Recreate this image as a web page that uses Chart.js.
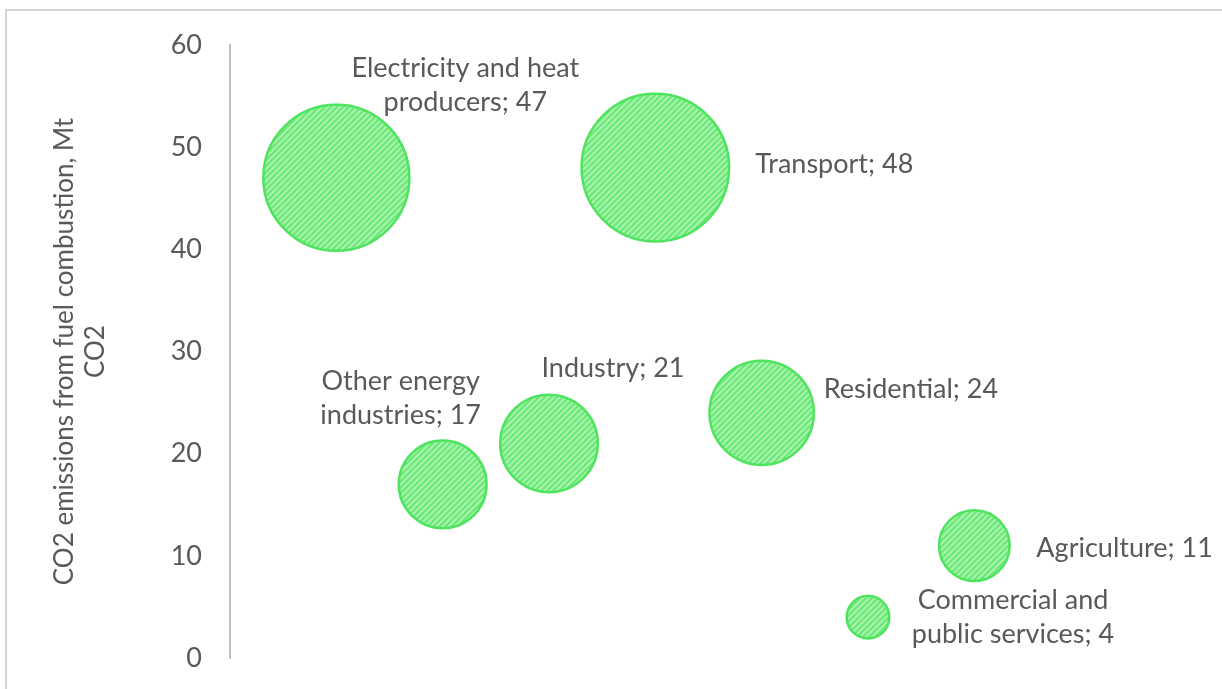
<!DOCTYPE html>
<html>
<head>
<meta charset="utf-8">
<script src="https://cdn.jsdelivr.net/npm/chart.js@4/dist/chart.umd.min.js"></script>
<style>
  html, body { margin: 0; padding: 0; background: #fff; }
  #wrap { width: 1222px; height: 689px; position: relative; }
</style>
</head>
<body>
<div id="wrap"><canvas id="emissions"></canvas></div>
<script>
// sectors in the order Excel placed them along the hidden x axis
const sectors = [
  ['Electricity and heat', 'producers; 47'],
  ['Other energy', 'industries; 17'],
  ['Industry; 21'],
  ['Transport; 48'],
  ['Residential; 24'],
  ['Commercial and', 'public services; 4'],
  ['Agriculture; 11']
]
const sectorX = [1, 2, 3, 4, 5, 6, 7]
const emissions = [47, 17, 21, 48, 24, 4, 11]   // Mt CO2, also the bubble size
const yTicks = [0, 10, 20, 30, 40, 50, 60]

// where each label sits relative to its bubble centre: [dx, dy, align]
const labelPlace = [
  [129, -93, 'center'],
  [-42, -86, 'center'],
  [64, -75, 'center'],
  [100, -3, 'left'],
  [62, -24, 'left'],
  [145, 0, 'center'],
  [62, 3, 'left']
]

const textGrey = '#595959'
const fontFamily = 'Lato, "Open Sans", sans-serif'
const bubbleScale = 10.65   // px of radius per sqrt(Mt)

// diagonal hatch fill like the excel "wide upward diagonal" pattern
function hatch() {
  let s = 6
  let c = document.createElement('canvas')
  c.width = s; c.height = s
  let g = c.getContext('2d')
  g.fillStyle = '#a8f4ae'
  g.fillRect(0, 0, s, s)
  g.strokeStyle = '#6be877'
  g.lineWidth = 2.2
  g.beginPath()
  g.moveTo(-1, s + 1); g.lineTo(s + 1, -1)
  g.moveTo(-1, 1); g.lineTo(1, -1)
  g.moveTo(s - 1, s + 1); g.lineTo(s + 1, s - 1)
  g.stroke()
  return g.createPattern(c, 'repeat')
}

const points = emissions.map((v, i) => ({x: sectorX[i], y: v, r: Math.sqrt(v) * bubbleScale}))

// light frame round the chart, cut at the right and bottom
const frame = {
  id: 'frame',
  beforeDraw(chart) {
    let ctx = chart.ctx
    ctx.save()
    ctx.strokeStyle = '#d4d4d4'
    ctx.lineWidth = 2
    ctx.beginPath()
    ctx.moveTo(6, chart.height + 2)
    ctx.lineTo(6, 10)
    ctx.lineTo(chart.width + 2, 10)
    ctx.stroke()
    ctx.restore()
  }
}

const bubbleLabels = {
  id: 'bubbleLabels',
  afterDatasetsDraw(chart) {
    let ctx = chart.ctx
    let meta = chart.getDatasetMeta(0)
    ctx.save()
    ctx.fillStyle = textGrey
    ctx.font = '27px ' + fontFamily
    ctx.textBaseline = 'middle'
    meta.data.forEach((el, i) => {
      let lines = sectors[i]
      let [dx, dy, align] = labelPlace[i]
      let lh = 34
      let y0 = el.y + dy - (lines.length - 1) * lh / 2
      ctx.textAlign = align
      lines.forEach((t, j) => ctx.fillText(t, el.x + dx, y0 + j * lh))
    })
    ctx.restore()
  }
}

new Chart(document.getElementById('emissions'), {
  type: 'bubble',
  data: {
    datasets: [{
      data: points,
      backgroundColor: hatch(),
      borderColor: '#4fe45e',
      borderWidth: 2.5,
      clip: false
    }]
  },
  options: {
    responsive: true,
    maintainAspectRatio: false,
    animation: false,
    layout: { autoPadding: false, padding: { left: 0, top: 45, right: 35, bottom: 31 } },
    plugins: { legend: { display: false }, tooltip: { enabled: false } },
    scales: {
      x: { type: 'linear', min: 0, max: 9, display: false },
      y: {
        min: 0, max: 60,
        afterBuildTicks: axis => { axis.ticks = yTicks.map(v => ({value: v})) },
        afterFit: axis => {
          axis.width = 230
          // let the layout padding alone decide the plot height
          axis.paddingTop = 0
          axis.paddingBottom = 0
        },
        grid: { display: false, drawTicks: false },
        border: { display: true, color: '#bfbfbf', width: 2 },
        ticks: { color: textGrey, padding: 28, font: { family: fontFamily, size: 27 } },
        title: {
          display: true,
          text: ['CO2 emissions from fuel combustion, Mt', 'CO2'],
          color: textGrey,
          font: { family: fontFamily, size: 26 },
          padding: { top: 49, bottom: 0 }
        }
      }
    }
  },
  plugins: [frame, bubbleLabels]
})
</script>
</body>
</html>
